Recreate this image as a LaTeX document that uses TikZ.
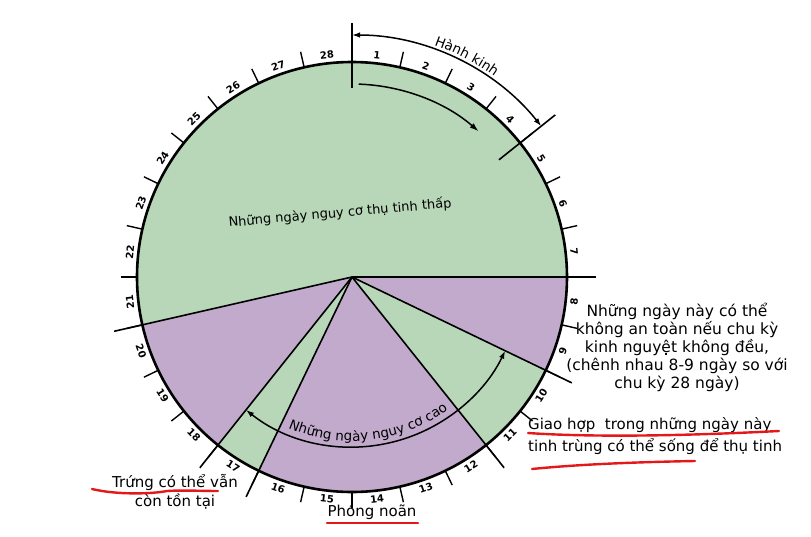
\documentclass[tikz,border=0pt]{standalone}
\usepackage{fontspec}
\setmainfont{DejaVu Sans}
\usetikzlibrary{arrows.meta,decorations.text}
\definecolor{lowgreen}{RGB}{184,214,184}
\definecolor{highpurple}{RGB}{194,170,204}
\definecolor{penred}{RGB}{228,24,24}
\newcommand{\arcfont}{\fontsize{13.5}{15}\selectfont}

\begin{document}
\begin{tikzpicture}[
  x=1pt,y=1pt,
  rim/.style={line width=2.6pt},
  ray/.style={line width=1.6pt},
  daytick/.style={line width=1.4pt},
  span/.style={line width=1.5pt,{Latex[length=8pt,width=5.5pt]}-{Latex[length=8pt,width=5.5pt]}},
  daylbl/.style={font=\fontsize{10}{11}\selectfont\bfseries,inner sep=0pt},
  note/.style={font=\fontsize{15.5}{18}\selectfont,align=center,inner sep=0pt},
  scrawl/.style={penred,line width=2.4pt,line cap=round}
]
  \useasboundingbox (-352,277) rectangle (459,-259);
  \coordinate (ctr) at (0,0);

  \foreach \a/\b/\c in {0/192.86/lowgreen,192.86/231.43/highpurple,231.43/244.29/lowgreen,
                        244.29/308.57/highpurple,308.57/334.29/lowgreen,334.29/360/highpurple}
    \fill[\c] (ctr) -- (\a:215) arc[start angle=\a,end angle=\b,radius=215] -- cycle;

  \foreach \k in {1,...,27}
    \draw[daytick] ({90-\k*360/28}:215) -- ({90-\k*360/28}:231);
  \foreach \k in {7,9,11,16,17,20}
    \draw[ray] (ctr) -- ({90-\k*360/28}:244);
  \draw[rim] (ctr) circle[radius=215];
  \draw[ray] (90:189) -- (90:254);
  \draw[ray] (38.57:188) -- (38.57:260);

  \foreach \d in {1,...,28} {
    \pgfmathsetmacro\ang{90-(\d-0.5)*360/28}
    \pgfmathsetmacro\rot{(\d>7 && \d<21) ? \ang+90 : \ang-90}
    \node[daylbl,rotate=\rot] (day\d) at (\ang:223.5) {\d};
  }

  \draw[span] (90:242) arc[start angle=90,end angle=38.57,radius=242];
  \path[decorate,decoration={text along path,text align=center,text={|\arcfont|Hành kinh}}]
    (75:246) arc[start angle=75,end angle=50,radius=246];
  \draw[line width=1.5pt,-{Latex[length=9pt,width=6pt]}] (88:193) arc[start angle=88,end angle=49,radius=193];

  \draw[span] (231.43:170) arc[start angle=231.43,end angle=334.29,radius=170];
  \path[decorate,decoration={text along path,text align=center,text={|\arcfont|Những ngày nguy cơ cao}}]
    (240:164) arc[start angle=240,end angle=313,radius=164];

  \node[rotate=5,font=\fontsize{13}{15}\selectfont] (lowrisk) at (-12,64) {Những ngày nguy cơ thụ tinh thấp};
  \node[note] (irregular) at (325,-70) {Những ngày này có thể\\không an toàn nếu chu kỳ\\kinh nguyệt không đều,\\(chênh nhau 8-9 ngày so với\\chu kỳ 28 ngày)};
  \node[note,align=left,anchor=west,font=\fontsize{15}{22}\selectfont] (sperm) at (176,-159) {Giao hợp\ \ trong những ngày này\\tinh trùng có thể sống để thụ tinh};
  \node[note,font=\fontsize{15}{19}\selectfont] (egg) at (-177,-215) {Trứng có thể vẫn\\còn tồn tại};
  \node[note,font=\fontsize{15}{18}\selectfont] (ovul) at (20,-235) {Phóng noãn};

  \draw[scrawl] (-260,-212) .. controls (-235,-218) and (-200,-217) .. (-185,-214) .. controls (-170,-213) and (-150,-214) .. (-134,-214);
  \draw[scrawl] (-25,-246) -- (66,-246);
  \draw[scrawl] (176,-156) .. controls (250,-161) and (350,-158) .. (427,-154);
  \draw[scrawl] (180,-192) .. controls (230,-187) and (290,-185) .. (343,-184);
\end{tikzpicture}
\end{document}
